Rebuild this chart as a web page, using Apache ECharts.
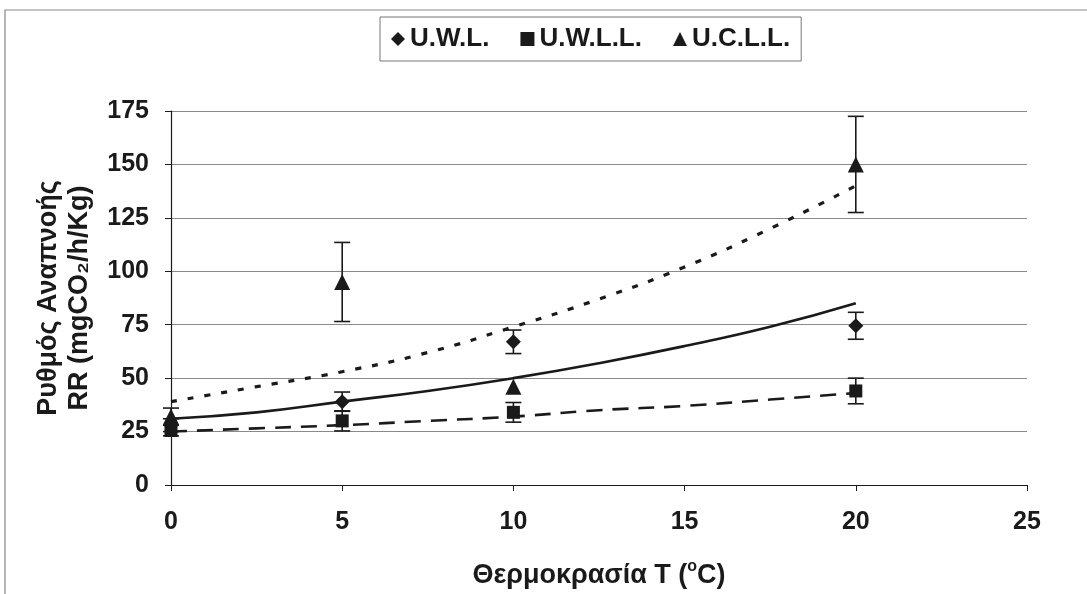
<!DOCTYPE html>
<html><head><meta charset="utf-8">
<script src="https://cdn.jsdelivr.net/npm/echarts@6/dist/echarts.min.js"></script>
<style>html,body{margin:0;padding:0;background:#fff}#c{width:1087px;height:594px}</style>
</head><body><div id="c"></div>
<script>
// Measured points: [T, RR, error]
const uwl  = [[0, 28, 3], [5, 39, 4.5], [10, 67, 5.5], [20, 74.5, 6.3]];
const uwll = [[0, 25.5, 2.5], [5, 30, 4.7], [10, 34, 4.6], [20, 44, 6]];
const ucll = [[0, 32, 4], [5, 95, 18.5], [10, 46, 0], [20, 150, 22.5]];
// Trend lines
const trendX   = [0, 2.5, 5, 7.5, 10, 12.5, 15, 17.5, 20];
const trendUwl = [31, 34, 39, 44, 50, 57, 65, 74, 85];
const trendUwll= [25, 26.5, 28, 30, 32, 35, 37, 40, 43];
const trendUcll= [39, 46, 53, 62, 74, 87, 102, 120, 140];
const xTicks = [0, 5, 10, 15, 20, 25];
const yTicks = [0, 25, 50, 75, 100, 125, 150, 175];

const FONT = 'Liberation Sans';
const INK = '#1a1a1a';
const zip = (xs, ys) => xs.map((x, i) => [x, ys[i]]);

function errSeries(data) {
  return {
    type: 'custom', silent: true, z: 3,
    data: data.filter(d => d[2] > 0).map(d => [d[0], d[1] - d[2], d[1] + d[2]]),
    renderItem: function (params, api) {
      const lo = api.coord([api.value(0), api.value(1)]);
      const hi = api.coord([api.value(0), api.value(2)]);
      const w = 8;
      const st = { stroke: INK, lineWidth: 1.6 };
      return { type: 'group', children: [
        { type: 'line', shape: { x1: lo[0], y1: lo[1], x2: hi[0], y2: hi[1] }, style: st },
        { type: 'line', shape: { x1: lo[0] - w, y1: lo[1], x2: lo[0] + w, y2: lo[1] }, style: st },
        { type: 'line', shape: { x1: hi[0] - w, y1: hi[1], x2: hi[0] + w, y2: hi[1] }, style: st }
      ]};
    }
  };
}
function pts(name, data, symbol, size) {
  return { name: name, type: 'scatter', symbol: symbol, symbolSize: size, z: 4,
    itemStyle: { color: INK, opacity: 1 }, data: data.map(d => [d[0], d[1]]) };
}
function trend(ys, dash, w) {
  return { type: 'line', smooth: true, showSymbol: false, symbol: 'none', silent: true, z: 2,
    data: zip(trendX, ys),
    lineStyle: { color: INK, width: w, type: dash, opacity: 1 } };
}

const chart = echarts.init(document.getElementById('c'));
chart.setOption({
  backgroundColor: '#fff',
  animation: false,
  graphic: [
    { type: 'polyline', shape: { points: [[5, 594], [5, 10], [1087, 10]] },
      style: { stroke: '#888', lineWidth: 1.2, fill: null } }
  ],
  legend: {
    data: [
      { name: 'U.W.L.', icon: 'diamond' },
      { name: 'U.W.L.L.', icon: 'rect' },
      { name: 'U.C.L.L.', icon: 'triangle' }
    ],
    left: 380, top: 17,
    itemWidth: 14, itemHeight: 14, itemGap: 31,
    padding: [9, 11, 9, 11],
    borderColor: '#777', borderWidth: 1,
    textStyle: { fontFamily: FONT, fontWeight: 'bold', fontSize: 26, color: INK }
  },
  grid: { left: 171, right: 60, top: 111, bottom: 107 },
  xAxis: {
    type: 'value', min: 0, max: 25, interval: 5,
    axisLine: { lineStyle: { color: INK, width: 1.2 } },
    axisTick: { show: true, length: 6, lineStyle: { color: INK } },
    splitLine: { show: false },
    axisLabel: { margin: 25, fontFamily: FONT, fontWeight: 'bold', fontSize: 25, color: INK,
      formatter: v => xTicks.includes(v) ? String(v) : '' },
    name: '{a|Θερμοκρασία T (}{s|o}{a|C)}',
    nameLocation: 'middle', nameGap: 74,
    nameTextStyle: { rich: {
      a: { fontFamily: FONT, fontWeight: 'bold', fontSize: 27, color: INK },
      s: { fontFamily: FONT, fontWeight: 'bold', fontSize: 16, color: INK, padding: [0, 0, 17, 0] }
    } }
  },
  yAxis: {
    type: 'value', min: 0, max: 175, interval: 25,
    axisLine: { show: true, lineStyle: { color: INK, width: 1.2 } },
    axisTick: { show: true, length: 6, lineStyle: { color: INK } },
    splitLine: { show: true, lineStyle: { color: '#8a8a8a', width: 1.2 } },
    axisLabel: { margin: 22, fontFamily: FONT, fontWeight: 'bold', fontSize: 25, color: INK,
      formatter: v => yTicks.includes(v) ? String(v) : '' },
    name: 'Ρυθμός Αναπνοής\nRR (mgCO₂/h/Kg)',
    nameLocation: 'middle', nameGap: 76, nameRotate: 90,
    nameTextStyle: { fontFamily: FONT, fontWeight: 'bold', fontSize: 27, color: INK, lineHeight: 31 }
  },
  series: [
    trend(trendUcll, [6, 11], 3.2),
    trend(trendUwl, 'solid', 2.6),
    trend(trendUwll, [16, 10], 2.6),
    errSeries(uwl), errSeries(uwll), errSeries(ucll),
    pts('U.W.L.', uwl, 'diamond', 15),
    pts('U.W.L.L.', uwll, 'rect', 13),
    pts('U.C.L.L.', ucll, 'triangle', 16)
  ]
});
</script></body></html>
